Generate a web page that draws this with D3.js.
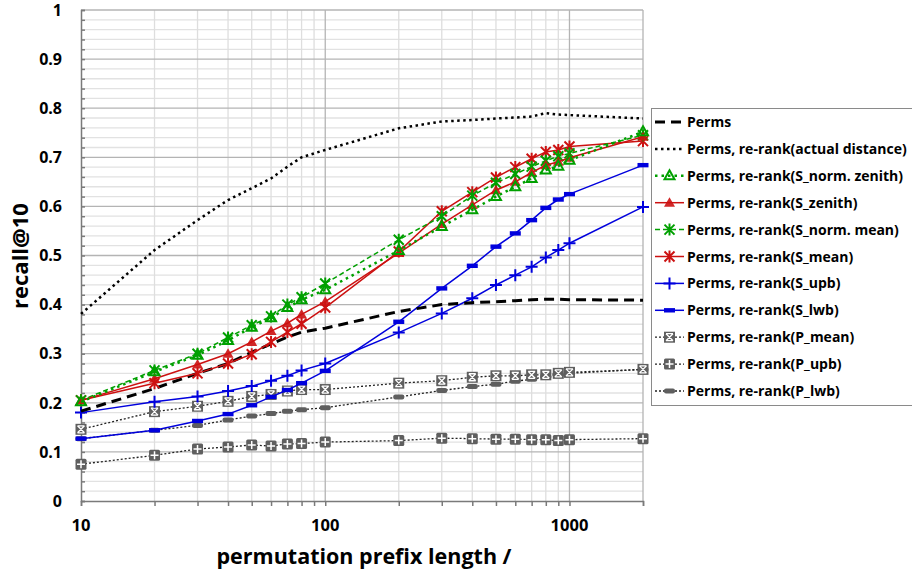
<!DOCTYPE html>
<html><head><meta charset="utf-8">
<script src="https://cdn.jsdelivr.net/npm/d3@7"></script>
<style>body{margin:0;background:#fff}svg{display:block;font-family:"Open Sans",Lato,sans-serif;font-weight:bold}</style>
</head><body><svg id="c" width="912" height="576"></svg>
<script>
const xs = [10,20,30,40,50,60,70,80,100,200,300,400,500,600,700,800,900,1000,2000];
const perms      = [0.183,0.229,0.26,0.28,0.303,0.32,0.334,0.344,0.352,0.386,0.40,0.404,0.406,0.408,0.41,0.411,0.411,0.410,0.409];
const actualDist = [0.381,0.511,0.572,0.613,0.637,0.657,0.681,0.70,0.715,0.759,0.773,0.776,0.779,0.781,0.783,0.790,0.787,0.786,0.779];
const sNormZenith= [0.202,0.263,0.297,0.327,0.354,0.373,0.394,0.41,0.43,0.51,0.559,0.593,0.62,0.64,0.657,0.674,0.682,0.694,0.752];
const sZenith    = [0.205,0.249,0.278,0.30,0.324,0.346,0.362,0.38,0.406,0.505,0.564,0.603,0.633,0.65,0.669,0.684,0.691,0.699,0.742];
const sNormMean  = [0.205,0.266,0.30,0.333,0.358,0.376,0.40,0.415,0.443,0.532,0.58,0.622,0.648,0.666,0.681,0.693,0.702,0.708,0.745];
const sMean      = [0.205,0.24,0.26,0.28,0.299,0.324,0.344,0.361,0.394,0.508,0.59,0.629,0.659,0.68,0.697,0.711,0.715,0.722,0.733];
const sUpb       = [0.18,0.202,0.213,0.224,0.234,0.245,0.255,0.266,0.28,0.343,0.382,0.413,0.44,0.46,0.477,0.496,0.511,0.525,0.599];
const sLwb       = [0.127,0.144,0.163,0.177,0.195,0.212,0.226,0.24,0.265,0.365,0.433,0.479,0.518,0.545,0.572,0.597,0.614,0.625,0.684];
const pMean      = [0.146,0.182,0.193,0.203,0.213,0.217,0.224,0.227,0.227,0.24,0.245,0.252,0.255,0.255,0.257,0.257,0.26,0.262,0.268];
const pUpb       = [0.075,0.093,0.106,0.11,0.114,0.112,0.116,0.117,0.12,0.123,0.128,0.127,0.126,0.126,0.125,0.125,0.123,0.125,0.127];
const pLwb       = [0.127,0.144,0.154,0.165,0.173,0.178,0.183,0.186,0.19,0.212,0.225,0.233,0.238,0.244,0.248,0.253,0.257,0.26,0.268];
const seriesNames = ["Perms","Perms, re-rank(actual distance)","Perms, re-rank(S_norm. zenith)","Perms, re-rank(S_zenith)","Perms, re-rank(S_norm. mean)","Perms, re-rank(S_mean)","Perms, re-rank(S_upb)","Perms, re-rank(S_lwb)","Perms, re-rank(P_mean)","Perms, re-rank(P_upb)","Perms, re-rank(P_lwb)"];
const yTicks = [0,0.1,0.2,0.3,0.4,0.5,0.6,0.7,0.8,0.9,1];
const xTickLabels = [10,100,1000];
const xTitle = "permutation prefix length /";
const yTitle = "recall@10";

const GREEN="#00a000", RED="#cc1111", BLUE="#0000dd", GRAY="#5f5f5f";
const styles = [
 {color:"#000",w:3,dash:"10,6",marker:null},
 {color:"#000",w:2.5,dash:"2.5,3.5",marker:null},
 {color:GREEN,w:2.5,dash:"2.5,4",marker:"triOpen"},
 {color:RED,w:1.5,dash:null,marker:"triFill"},
 {color:GREEN,w:1.5,dash:"5,3",marker:"star"},
 {color:RED,w:1.5,dash:null,marker:"star"},
 {color:BLUE,w:1.5,dash:null,marker:"plus"},
 {color:BLUE,w:1.5,dash:null,marker:"bar"},
 {color:"#222",w:1.3,dash:"2,2",marker:"boxX",mcolor:GRAY},
 {color:"#222",w:1.3,dash:"2,2",marker:"boxPlus",mcolor:GRAY},
 {color:"#222",w:1.3,dash:"2,2",marker:"barGray",mcolor:GRAY}
];
const data = [perms,actualDist,sNormZenith,sZenith,sNormMean,sMean,sUpb,sLwb,pMean,pUpb,pLwb];

const svg = d3.select("#c");
const x = d3.scaleLog().domain([10,2000]).range([81,643]);
const y = d3.scaleLinear().domain([0,1]).range([501,10]);

// grid
const g = svg.append("g");
const minorY = d3.range(0,1.001,0.02).filter(v=>Math.abs(v*10-Math.round(v*10))>1e-6);
g.selectAll(".hmin").data(minorY).enter().append("line")
 .attr("x1",x(10)).attr("x2",x(2000)).attr("y1",d=>y(d)).attr("y2",d=>y(d))
 .attr("stroke","#e2e2e2").attr("stroke-width",1.3);
const minorX = [20,30,40,50,60,70,80,90,200,300,400,500,600,700,800,900];
g.selectAll(".vmin").data(minorX).enter().append("line")
 .attr("x1",d=>x(d)).attr("x2",d=>x(d)).attr("y1",y(0)).attr("y2",y(1))
 .attr("stroke","#dedede").attr("stroke-width",1.3);
g.selectAll(".hmaj").data(yTicks.slice(1)).enter().append("line")
 .attr("x1",x(10)).attr("x2",x(2000)).attr("y1",d=>y(d)).attr("y2",d=>y(d))
 .attr("stroke","#b4b4b4").attr("stroke-width",1.3);
g.selectAll(".vmaj").data([100,1000,2000]).enter().append("line")
 .attr("x1",d=>x(d)).attr("x2",d=>x(d)).attr("y1",y(0)).attr("y2",y(1))
 .attr("stroke","#b4b4b4").attr("stroke-width",1.3);

// axes
const yAxis = d3.axisLeft(y).tickValues(d3.range(0,1.001,0.02)).tickSize(-4).tickFormat("");
const ya = svg.append("g").attr("transform",`translate(${x(10)},0)`).call(yAxis);
ya.selectAll("path,line").attr("stroke","#7a7a7a").attr("stroke-width",1.5);
const xAxis = d3.axisBottom(x).tickValues([10,20,30,40,50,60,70,80,90,100,200,300,400,500,600,700,800,900,1000,2000]).tickSize(5).tickFormat("");
const xa = svg.append("g").attr("transform",`translate(0,${y(0)})`).call(xAxis);
xa.selectAll("path,line").attr("stroke","#7a7a7a").attr("stroke-width",1.5);

svg.append("g").selectAll("text").data(yTicks).enter().append("text")
 .attr("x",62).attr("y",d=>y(d)).attr("dy","0.36em").attr("text-anchor","end").attr("font-size",16).text(d=>String(d));
svg.append("g").selectAll("text").data(xTickLabels).enter().append("text")
 .attr("x",d=>x(d)).attr("y",531).attr("text-anchor","middle").attr("font-size",16.5).text(d=>String(d));
svg.append("text").attr("x",364).attr("y",564).attr("text-anchor","middle").attr("font-size",21.5).text(xTitle);
svg.append("text").attr("transform","translate(28,256) rotate(-90)").attr("text-anchor","middle").attr("font-size",22).text(yTitle);

function drawMarker(sel, type, c){
  const col = c;
  if(type==="triOpen"){ sel.append("path").attr("d","M0,-5.5L5,3.5L-5,3.5Z").attr("fill","none").attr("stroke",col).attr("stroke-width",2); }
  else if(type==="triFill"){ sel.append("path").attr("d","M0,-5.5L5.5,4L-5.5,4Z").attr("fill",col).attr("opacity",0.9); }
  else if(type==="star"){ sel.append("path").attr("d","M-5,-5L5,5M-5,5L5,-5M0,-6L0,6").attr("stroke",col).attr("stroke-width",2); }
  else if(type==="plus"){ sel.append("path").attr("d","M-6,0L6,0M0,-6L0,6").attr("stroke",col).attr("stroke-width",2); }
  else if(type==="bar"){ sel.append("rect").attr("x",-5.5).attr("y",-2.2).attr("width",11).attr("height",4.4).attr("fill",col); }
  else if(type==="barGray"){ sel.append("rect").attr("x",-5.5).attr("y",-2.5).attr("width",11).attr("height",5).attr("rx",2).attr("fill",col); }
  else if(type==="boxX"){ sel.append("rect").attr("x",-5.5).attr("y",-5.5).attr("width",11).attr("height",11).attr("fill",col);
    sel.append("path").attr("d","M-3.5,-3.5L3.5,3.5M-3.5,3.5L3.5,-3.5M-3.5,-3.5L3.5,-3.5M-3.5,3.5L3.5,3.5").attr("stroke","#fff").attr("stroke-width",1.3); }
  else if(type==="boxPlus"){ sel.append("rect").attr("x",-5.5).attr("y",-5.5).attr("width",11).attr("height",11).attr("rx",1.5).attr("fill",col);
    sel.append("path").attr("d","M-4,0L4,0M0,-4L0,4").attr("stroke","#fff").attr("stroke-width",1.5); }
}

const line = d3.line().x(d=>x(d[0])).y(d=>y(d[1]));
const order = [10,9,8,7,6,0,1,5,4,3,2];
order.forEach(i=>{
  const s = styles[i];
  const pts = xs.map((xv,k)=>[xv,data[i][k]]);
  const gg = svg.append("g");
  gg.append("path").datum(pts).attr("d",line).attr("fill","none").attr("stroke",s.color)
    .attr("stroke-width",s.w).attr("stroke-dasharray",s.dash);
  if(s.marker){
    pts.forEach(p=>{
      const m = gg.append("g").attr("transform",`translate(${x(p[0])},${y(p[1])})`);
      drawMarker(m, s.marker, s.mcolor||s.color);
    });
  }
});

// legend
const lg = svg.append("g");
lg.append("rect").attr("x",651.5).attr("y",108.5).attr("width",262).attr("height",297).attr("fill","#fff").attr("stroke","#8a8a8a").attr("stroke-width",1);
seriesNames.forEach((name,i)=>{
  const s = styles[i];
  const yy = 122 + i*26.9;
  const it = lg.append("g");
  it.append("line").attr("x1",655).attr("x2",684).attr("y1",yy).attr("y2",yy).attr("stroke",s.color)
    .attr("stroke-width",s.w).attr("stroke-dasharray",s.dash);
  if(s.marker){ drawMarker(it.append("g").attr("transform",`translate(669.5,${yy})`), s.marker, s.mcolor||s.color); }
  it.append("text").attr("x",687).attr("y",yy+5).attr("font-size",14).text(name);
});
</script></body></html>
